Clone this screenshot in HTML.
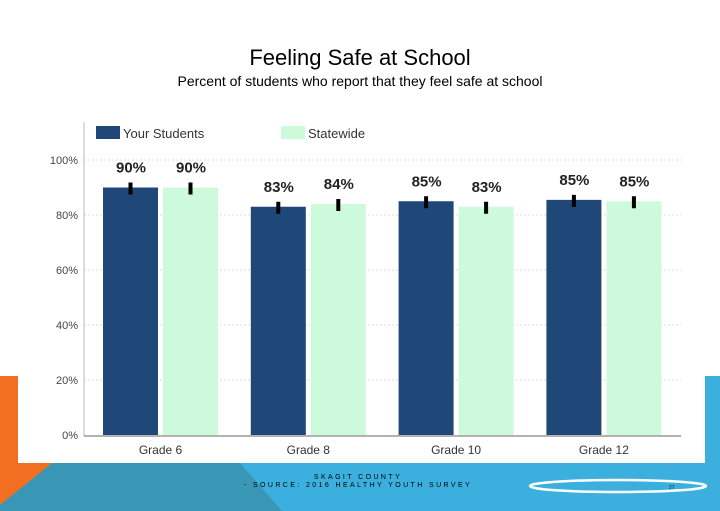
<!DOCTYPE html>
<html><head><meta charset="utf-8"><style>
body{margin:0;width:720px;height:511px;overflow:hidden;background:#fff;font-family:"Liberation Sans",sans-serif;position:relative}
.t{position:absolute;left:0;width:720px;text-align:center;color:#000}
</style></head><body>
<svg width="720" height="511" style="position:absolute;left:0;top:0">
<rect x="0" y="376" width="30" height="135" fill="#f26f21"/>
<rect x="690" y="376" width="30" height="135" fill="#3bb0de"/>
<polygon points="0,463 720,463 720,511 0,511" fill="#3bb0de"/>
<polygon points="0,463 240,463 282,511 0,511" fill="#3a96b5"/>
<polygon points="0,463 52,463 0,505" fill="#f26f21"/>
<rect x="18" y="100" width="687" height="363" fill="#fff"/>
<ellipse cx="618" cy="486" rx="88" ry="6" fill="none" stroke="#fff" stroke-width="2.5"/>
<text x="669" y="489" font-size="5" fill="#222" font-family="Liberation Sans">27</text>
</svg>
<div class="t" style="top:45px;font-size:22px">Feeling Safe at School</div>
<div class="t" style="top:73px;font-size:14px">Percent of students who report that they feel safe at school</div>
<div class="t" style="top:474px;font-size:7px;letter-spacing:2.4px;line-height:8px;left:-2px">SKAGIT COUNTY<br>- SOURCE: 2016 HEALTHY YOUTH SURVEY</div>
<svg id="c" width="720" height="511" style="position:absolute;left:0;top:0"></svg>
<script>
const categories=["Grade 6","Grade 8","Grade 10","Grade 12"];
const yourStudents=[90,83,85,85.5];
const statewide=[90,84,83,85];
const yourLabels=["90%","83%","85%","85%"];
const stateLabels=["90%","84%","83%","85%"];
const ticks=[0,20,40,60,80,100];
const svg=document.getElementById('c');const NS='http://www.w3.org/2000/svg';
function y(v){return 435-v*2.75;}
function gx(i){return 103+i*147.8;}
function mk(t,a,name){const e=document.createElementNS(NS,t);for(const k in a)e.setAttribute(k,a[k]);svg.appendChild(e);return e;}
ticks.forEach(t=>{
 if(t>0)mk('line',{x1:84,x2:681,y1:y(t),y2:y(t),stroke:'#ddd','stroke-dasharray':'2,2'},'gridline');
 const tx=mk('text',{x:78,y:y(t)+4,'text-anchor':'end','font-size':11,fill:'#444','font-family':'Liberation Sans'},'y-tick-label');tx.textContent=t+'%';
});
mk('line',{x1:84,x2:84,y1:122,y2:436,stroke:'#bbb'},'y-axis');
mk('line',{x1:84,x2:681,y1:436,y2:436,stroke:'#999','stroke-width':1.5},'x-axis');
categories.forEach((c,i)=>{
 const x=gx(i);
 [[yourStudents[i],yourLabels[i],'#1f4778',0],[statewide[i],stateLabels[i],'#cdfadb',60]].forEach(([v,l,col,off])=>{
  mk('rect',{x:x+off,y:y(v),width:55,height:435-y(v),fill:col},'bar');
  mk('rect',{x:x+off+25.5,y:y(v)-5,width:4,height:12,fill:'#000'},'error-bar');
  const t=mk('text',{x:x+off+28,y:y(v)-15,'text-anchor':'middle','font-size':15,'font-weight':'bold',fill:'#222','font-family':'Liberation Sans'},'value-label');t.textContent=l;
 });
 const t=mk('text',{x:x+57.5,y:454,'text-anchor':'middle','font-size':12,fill:'#333','font-family':'Liberation Sans'},'x-tick-label');t.textContent=c;
});
mk('rect',{x:96,y:126,width:24,height:13,fill:'#1f4778'},'legend-swatch-your-students');
let l1=mk('text',{x:123,y:138,'font-size':13,fill:'#333','font-family':'Liberation Sans'},'legend-label-your-students');l1.textContent='Your Students';
mk('rect',{x:281,y:126,width:24,height:13,fill:'#cdfadb'},'legend-swatch-statewide');
let l2=mk('text',{x:308,y:138,'font-size':13,fill:'#333','font-family':'Liberation Sans'},'legend-label-statewide');l2.textContent='Statewide';
</script>
</body></html>
